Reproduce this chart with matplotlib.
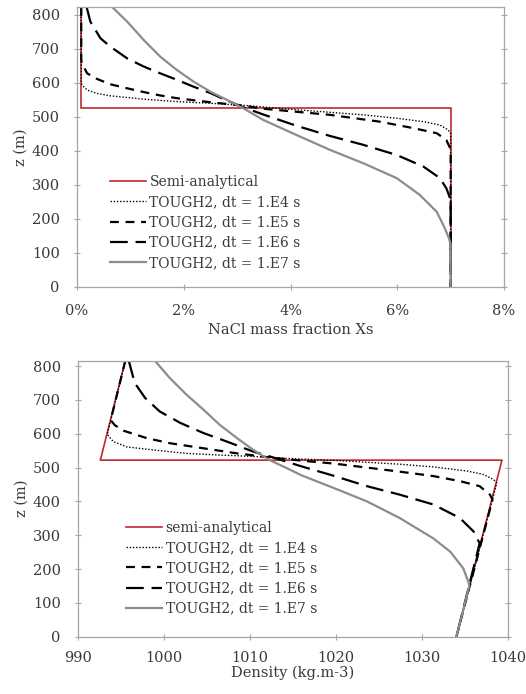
import matplotlib
matplotlib.use("Agg")
import matplotlib.pyplot as plt
from matplotlib.ticker import FuncFormatter

plt.rcParams["font.family"] = ["DejaVu Serif"]

RED = "#C0272D"
GREY = "#8C8C8C"
AXIS = "#A6A6A6"
TEXT = "#3A3A3A"

LABELS_TOP = ["Semi-analytical", "TOUGH2, dt = 1.E4 s", "TOUGH2, dt = 1.E5 s",
              "TOUGH2, dt = 1.E6 s", "TOUGH2, dt = 1.E7 s"]
LABELS_BOT = ["semi-analytical"] + LABELS_TOP[1:]

# --- top panel: NaCl mass fraction (%) vs z (m)
xs_semi = [0.08, 0.08, 7.0, 7.0]
zs_semi = [823, 525, 525, 0]

xs_e4 = [0.08, 0.08, 0.09, 0.19, 0.37, 0.62, 1.25, 1.87, 2.5, 3.12, 4.11, 5.36,
         5.99, 6.49, 6.8, 6.95, 7.0, 7.0]
zs_e4 = [823, 605, 594, 579, 569, 562, 552, 545, 540, 534, 521, 506,
         496, 486, 476, 462, 452, 0]

xs_e5 = [0.08, 0.08, 0.09, 0.19, 0.37, 0.62, 0.94, 1.25, 1.56, 1.87, 2.5, 3.12,
         3.49, 4.74, 5.67, 6.3, 6.74, 6.92, 7.0, 7.0]
zs_e5 = [823, 670, 658, 628, 612, 596, 584, 573, 563, 555, 543, 533,
         524, 506, 486, 467, 452, 432, 405, 0]

xs_e6 = [0.18, 0.25, 0.44, 0.62, 0.94, 1.25, 1.56, 1.87, 2.18, 2.5, 2.81, 3.12,
         3.49, 4.11, 4.74, 5.36, 5.99, 6.49, 6.8, 6.92, 6.99, 7.0, 7.0]
zs_e6 = [823, 780, 731, 707, 672, 648, 628, 609, 589, 570, 548, 528,
         507, 474, 444, 418, 388, 354, 320, 290, 261, 250, 0]

xs_e7 = [0.62, 0.94, 1.25, 1.56, 1.87, 2.18, 2.5, 2.81, 3.12, 3.49, 4.11, 4.74,
         5.36, 5.99, 6.42, 6.74, 6.89, 6.97, 7.0, 7.0]
zs_e7 = [829, 780, 726, 677, 638, 604, 574, 550, 525, 491, 447, 403,
         364, 320, 271, 221, 173, 143, 125, 0]

# --- bottom panel: density (kg/m3) vs z (m)
rho_semi = [995.5, 992.6, 1039.3, 1034.0]
zr_semi = [816, 522, 522, 0]

rho_e4 = [995.5, 993.4, 994.1, 995.7, 998.8, 1002.6, 1006.5, 1010.4, 1014.3,
          1020.1, 1027.4, 1031.3, 1035.2, 1037.1, 1038.3, 1038.7, 1034.0]
zr_e4 = [816, 598, 577, 561, 552, 542, 537, 533, 527,
         521, 510, 502, 490, 480, 465, 455, 0]

rho_e5 = [995.5, 993.8, 994.3, 995.3, 998.0, 1000.7, 1004.6, 1008.5, 1012.3,
          1016.2, 1019.7, 1023.6, 1027.4, 1031.3, 1034.4, 1036.7, 1037.9, 1038.2, 1034.0]
zr_e5 = [816, 640, 625, 609, 587, 572, 557, 542, 530,
         520, 512, 500, 488, 475, 460, 445, 420, 405, 0]

rho_e6 = [995.9, 996.6, 997.8, 999.5, 1001.9, 1004.6, 1007.3, 1010.4, 1012.3,
          1015.8, 1019.7, 1023.6, 1027.4, 1031.3, 1034.4, 1036.0, 1036.7, 1034.0]
zr_e6 = [816, 750, 706, 666, 632, 602, 577, 547, 533,
         505, 476, 445, 420, 391, 351, 311, 276, 0]

rho_e7 = [998.8, 1000.7, 1002.6, 1004.6, 1006.5, 1008.5, 1010.4, 1012.3, 1014.3,
          1016.0, 1019.7, 1023.6, 1027.4, 1031.3, 1033.3, 1034.8, 1035.4, 1035.5, 1034.0]
zr_e7 = [820, 764, 716, 671, 626, 587, 552, 522, 498,
         477, 440, 400, 351, 291, 251, 202, 162, 150, 0]

STYLES = [
    dict(color=RED, lw=1.2, ls="-"),
    dict(color="black", lw=1.0, ls=(0, (1, 1.3))),
    dict(color="black", lw=1.6, ls=(0, (4, 3))),
    dict(color="black", lw=1.6, ls=(0, (8, 3.5))),
    dict(color=GREY, lw=1.6, ls="-"),
]
LEG = dict(loc="upper left", frameon=False, fontsize=10, handlelength=2.6,
           handletextpad=0.25, labelspacing=0.45, borderpad=0,
           borderaxespad=0, labelcolor=TEXT)


def style_axes(ax, xpad):
    for sp in ax.spines.values():
        sp.set_color(AXIS)
        sp.set_linewidth(0.9)
    ax.tick_params(axis="both", direction="inout", length=5, width=0.8,
                   color=AXIS, labelcolor=TEXT, labelsize=10.5)
    ax.tick_params(axis="y", right=True, pad=10)
    ax.tick_params(axis="x", pad=xpad)
    ax.set_yticks(range(0, 801, 100))


fig = plt.figure(figsize=(5.26, 6.94), dpi=100)

# top panel
ax1 = fig.add_axes([77 / 526, 1 - 287 / 694, 427 / 526, 280 / 694])
series_top = [(xs_semi, zs_semi), (xs_e4, zs_e4), (xs_e5, zs_e5),
              (xs_e6, zs_e6), (xs_e7, zs_e7)]
for (x, z), st, lab in zip(series_top, STYLES, LABELS_TOP):
    ax1.plot(x, z, label=lab, **st)
ax1.set_xlim(0, 8)
ax1.set_ylim(0, 823)
ax1.set_xticks(range(0, 9, 2))
ax1.xaxis.set_major_formatter(FuncFormatter(lambda v, p: f"{v:.0f}%"))
style_axes(ax1, 10)
ax1.set_xlabel("NaCl mass fraction Xs", color=TEXT, fontsize=10.5, labelpad=3)
ax1.set_ylabel("z (m)", color=TEXT, fontsize=10.5, labelpad=3)
ax1.legend(bbox_to_anchor=(0.077, 0.40), **LEG)

# bottom panel
ax2 = fig.add_axes([78 / 526, 1 - 636.7 / 694, 430 / 526, 276 / 694])
series_bot = [(rho_semi, zr_semi), (rho_e4, zr_e4), (rho_e5, zr_e5),
              (rho_e6, zr_e6), (rho_e7, zr_e7)]
for (x, z), st, lab in zip(series_bot, STYLES, LABELS_BOT):
    ax2.plot(x, z, label=lab, **st)
ax2.set_xlim(990, 1040)
ax2.set_ylim(0, 816)
ax2.set_xticks(range(990, 1041, 10))
style_axes(ax2, 8)
ax2.set_xlabel("Density (kg.m-3)", color=TEXT, fontsize=10.5, labelpad=0)
ax2.set_ylabel("z (m)", color=TEXT, fontsize=10.5, labelpad=3)
ax2.legend(bbox_to_anchor=(0.112, 0.42), **LEG)

fig.savefig("out.png", dpi=100)
